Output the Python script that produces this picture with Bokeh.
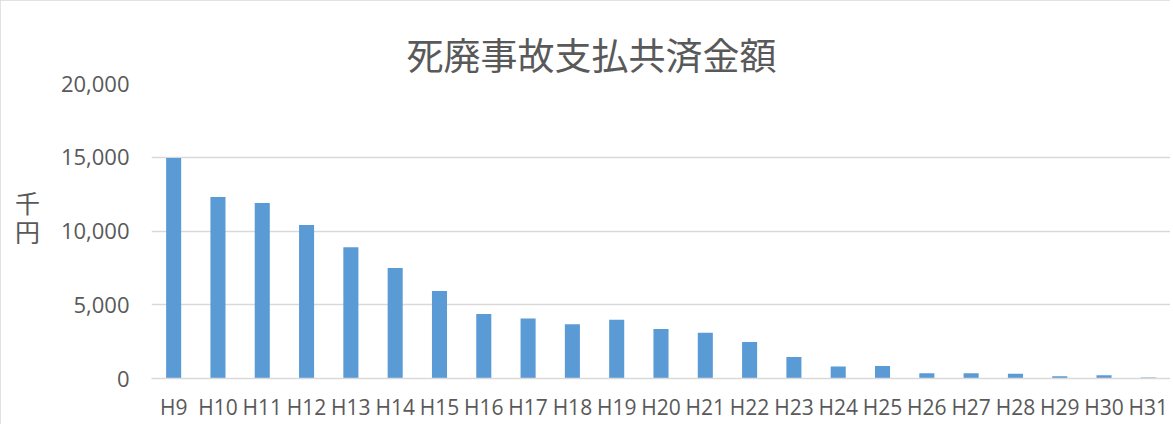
from bokeh.plotting import figure
from bokeh.models import ColumnDataSource, FixedTicker, NumeralTickFormatter, Range1d, Title
from bokeh.embed import file_html
from bokeh.resources import INLINE

categories = ["H9", "H10", "H11", "H12", "H13", "H14", "H15", "H16", "H17", "H18", "H19", "H20",
              "H21", "H22", "H23", "H24", "H25", "H26", "H27", "H28", "H29", "H30", "H31"]
values = [14950, 12300, 11900, 10400, 8900, 7500, 5930, 4380, 4070, 3680, 3990, 3360,
          3100, 2470, 1460, 820, 840, 360, 350, 320, 160, 220, 60]
y_ticks = [0, 5000, 10000, 15000, 20000]
title_text = "死廃事故支払共済金額"
y_label = "千\n円\n"

src = ColumnDataSource(data=dict(cat=categories, val=values))

p = figure(width=1170, height=424, x_range=categories, y_range=Range1d(0, 20000),
           output_backend="svg", toolbar_location=None,
           min_border_left=151, min_border_right=0, min_border_top=83, min_border_bottom=46)
p.title = None
t = Title(text=title_text, align="left", offset=255, text_font="Noto Sans CJK JP",
          text_font_size="37px", text_font_style="normal", text_color="#595959", standoff=6)
p.add_layout(t, "above")

p.vbar(x="cat", top="val", width=0.34, source=src, fill_color="#5B9BD5", line_color=None)

p.outline_line_color = None
p.xgrid.grid_line_color = None
p.ygrid.grid_line_color = "#D9D9D9"
p.ygrid.grid_line_width = 1.3
p.yaxis.ticker = FixedTicker(ticks=y_ticks)
p.yaxis.formatter = NumeralTickFormatter(format="0,0")
p.yaxis.axis_line_color = None
p.yaxis.major_tick_line_color = None
p.yaxis.minor_tick_line_color = None
p.yaxis.major_tick_out = 0
p.yaxis.major_label_standoff = 22
p.yaxis.major_label_text_font = "Open Sans"
p.yaxis.major_label_text_font_size = "22px"
p.yaxis.major_label_text_color = "#595959"
p.yaxis.axis_label = y_label
p.yaxis.axis_label_orientation = "horizontal"
p.yaxis.axis_label_text_font = "Noto Sans CJK JP"
p.yaxis.axis_label_text_font_size = "25px"
p.yaxis.axis_label_text_line_height = 0.8
p.yaxis.axis_label_text_font_style = "normal"
p.yaxis.axis_label_text_color = "#595959"
p.yaxis.axis_label_standoff = 18

p.xaxis.axis_line_color = "#D9D9D9"
p.xaxis.axis_line_width = 1.3
p.xaxis.major_tick_line_color = None
p.xaxis.minor_tick_line_color = None
p.xaxis.major_tick_out = 0
p.xaxis.major_label_standoff = 14
p.xaxis.major_label_text_font = "Open Sans"
p.xaxis.major_label_text_font_size = "21px"
p.xaxis.major_label_text_color = "#595959"
p.x_range.range_padding = 0

p.styles = {"outline": "1px solid #D9D9D9", "outline-offset": "-1px"}

open("out.html", "w").write(file_html(p, INLINE))
